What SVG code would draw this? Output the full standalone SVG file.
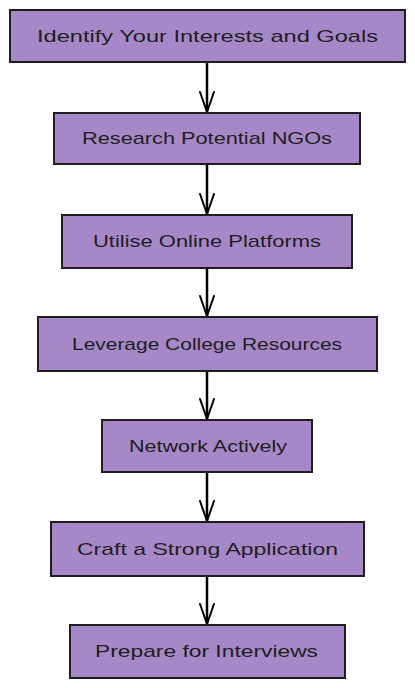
<svg xmlns="http://www.w3.org/2000/svg" width="415" height="688" viewBox="0 0 415 688">
<style>
.box{fill:#a688c8;stroke:#1e1e1e;stroke-width:2}
.lbl{font-family:"Liberation Sans","DejaVu Sans",sans-serif;font-size:17px;fill:#1e1e1e;text-anchor:middle}
.edge{fill:none;stroke:#000;stroke-width:2.5;stroke-linecap:round}
.head{fill:none;stroke:#000;stroke-width:2;stroke-linecap:round;stroke-linejoin:round}
</style>
<rect width="415" height="688" fill="#fff"/>
<g id="connectors">
<path class="edge" d="M207 62 L207 112"/><path class="head" d="M200 92 L207 112 L214 92"/>
<path class="edge" d="M207 164 L207 214"/><path class="head" d="M200 194 L207 214 L214 194"/>
<path class="edge" d="M207 268 L207 316"/><path class="head" d="M200 296 L207 316 L214 296"/>
<path class="edge" d="M207 371 L207 419"/><path class="head" d="M200 399 L207 419 L214 399"/>
<path class="edge" d="M207 472 L207 521"/><path class="head" d="M200 501 L207 521 L214 501"/>
<path class="edge" d="M207 576 L207 624"/><path class="head" d="M200 604 L207 624 L214 604"/>
</g>
<g id="n1"><rect class="box" x="10" y="10" width="395" height="52"/><text class="lbl" x="207.5" y="42" textLength="341" lengthAdjust="spacingAndGlyphs">Identify Your Interests and Goals</text></g>
<g id="n2"><rect class="box" x="54" y="113" width="306" height="51"/><text class="lbl" x="207" y="144" textLength="250" lengthAdjust="spacingAndGlyphs">Research Potential NGOs</text></g>
<g id="n3"><rect class="box" x="62" y="215" width="290" height="53"/><text class="lbl" x="207" y="247" textLength="228" lengthAdjust="spacingAndGlyphs">Utilise Online Platforms</text></g>
<g id="n4"><rect class="box" x="38" y="317" width="339" height="54"/><text class="lbl" x="207" y="350" textLength="270" lengthAdjust="spacingAndGlyphs">Leverage College Resources</text></g>
<g id="n5"><rect class="box" x="102" y="420" width="210" height="52"/><text class="lbl" x="208" y="452" textLength="158" lengthAdjust="spacingAndGlyphs">Network Actively</text></g>
<g id="n6"><rect class="box" x="51" y="522" width="313" height="54"/><text class="lbl" x="207.5" y="555" textLength="261" lengthAdjust="spacingAndGlyphs">Craft a Strong Application</text></g>
<g id="n7"><rect class="box" x="70" y="625" width="275" height="53"/><text class="lbl" x="206.5" y="657" textLength="223" lengthAdjust="spacingAndGlyphs">Prepare for Interviews</text></g>
</svg>
